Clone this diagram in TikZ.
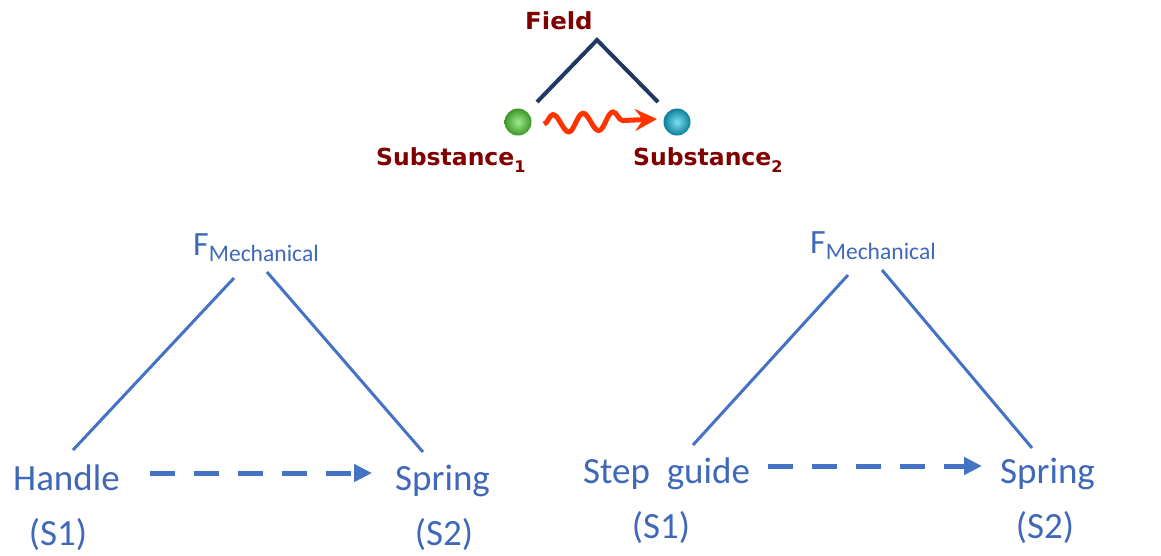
\documentclass[tikz,border=0pt]{standalone}
\usepackage{fontspec}
\usepackage{graphicx}
\setmainfont{Carlito}
\newfontfamily\vfont{DejaVu Sans}
\usetikzlibrary{arrows.meta,decorations.pathmorphing,shadings}
\definecolor{fblue}{HTML}{4472C4}
\definecolor{tblue}{HTML}{3F68B8}
\definecolor{dred}{HTML}{800000}
\definecolor{navy}{HTML}{1F3864}
\definecolor{wred}{HTML}{FF3300}
\definecolor{gball}{HTML}{55D835}
\definecolor{cball}{HTML}{12C4EA}
\tikzset{
  lbl/.style={inner sep=0pt, text=tblue, font=\fontsize{37}{40}\selectfont},
  flbl/.style={inner sep=0pt, text=tblue, font=\fontsize{34}{36}\selectfont, anchor=base west},
  link/.style={draw=fblue, line width=3pt},
  darrow/.style={draw=fblue, line width=5pt, dash pattern=on 25pt off 19pt, -{Triangle[length=18pt,width=17pt]}},
  vlbl/.style={inner sep=0pt, text=dred, anchor=base west},
  flink/.style={draw=navy, line width=4pt},
}
\newcommand{\vtext}[3]{\scalebox{#3}[1]{\fontsize{#1}{#1}\selectfont\vfont\bfseries #2}}
\newcommand{\mech}{F\raisebox{-6pt}{\fontsize{23.6}{24}\selectfont Mechanical}}
\begin{document}
\begin{tikzpicture}[x=1pt,y=-1pt]
\useasboundingbox (0,0) rectangle (1161,555);
% ---------- top generic model ----------
\node[vlbl] (field) at (525,29.5) {\vtext{23.5}{Field}{1.04}};
\coordinate (fa) at (597,40);
\coordinate (fl) at (537,102);
\coordinate (fr) at (658,102);
\draw[flink] (fl) -- (fa) -- (fr);
\shade[inner color=gball!55!white, outer color=gball!70!black] (518,122) circle[radius=13.5] node (s1ball) {};
\shade[inner color=cball!55!white, outer color=cball!65!black] (677,122) circle[radius=13.5] node (s2ball) {};
\coordinate (w1) at (544,124);
\coordinate (w2) at (657,119);
\draw[wred, line width=5pt, -{Stealth[length=22pt,width=22pt,inset=8pt]},
      decorate, decoration={snake, amplitude=9pt, segment length=30pt, post length=22pt}] (w1) -- (w2);
\node[vlbl] (sub1) at (376,165.5) {\vtext{23.5}{Substance}{1.0}\raisebox{-7pt}{\fontsize{16}{16}\selectfont\vfont\bfseries 1}};
\node[vlbl] (sub2) at (633,165.5) {\vtext{23.5}{Substance}{1.0}\raisebox{-7pt}{\fontsize{16}{16}\selectfont\vfont\bfseries 2}};
% ---------- left model ----------
\node[flbl] (fm1) at (193,255) {\mech};
\node[lbl, anchor=base west] (h) at (13,490) {Handle};
\node[lbl, anchor=base] (hs) at (58,545) {(S1)};
\node[lbl, anchor=base west] (sp1) at (395,490) {Spring};
\node[lbl, anchor=base] (sp1s) at (444,545) {(S2)};
\coordinate (l1a) at (234,278);
\coordinate (l1b) at (73,450);
\coordinate (l1c) at (267,272);
\coordinate (l1d) at (423,452);
\draw[link] (l1a) -- (l1b);
\draw[link] (l1c) -- (l1d);
\coordinate (a1s) at (150,473);
\coordinate (a1e) at (372,473);
\draw[darrow] (a1s) -- (a1e);
% ---------- right model ----------
\node[flbl] (fm2) at (810,253) {\mech};
\node[lbl, anchor=base west] (sg) at (583,483) {Step\ \ guide};
\node[lbl, anchor=base] (sgs) at (661,538) {(S1)};
\node[lbl, anchor=base west] (sp2) at (1000,483) {Spring};
\node[lbl, anchor=base] (sp2s) at (1045,538) {(S2)};
\coordinate (l2a) at (848,275);
\coordinate (l2b) at (693,445);
\coordinate (l2c) at (882,270);
\coordinate (l2d) at (1032,448);
\draw[link] (l2a) -- (l2b);
\draw[link] (l2c) -- (l2d);
\coordinate (a2s) at (768,466);
\coordinate (a2e) at (982,466);
\draw[darrow] (a2s) -- (a2e);
\end{tikzpicture}
\end{document}
